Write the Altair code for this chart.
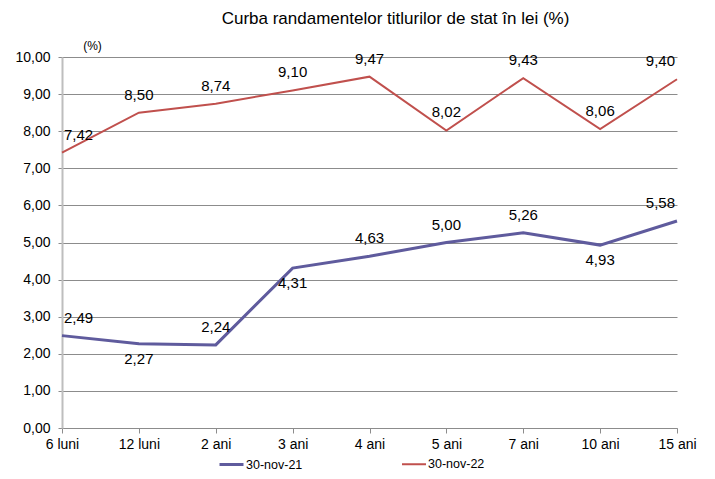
import altair as alt
import pandas as pd

title_text = "Curba randamentelor titlurilor de stat în lei (%)"
categories = ["6 luni", "12 luni", "2 ani", "3 ani", "4 ani", "5 ani", "7 ani", "10 ani", "15 ani"]
series_names = ["30-nov-21", "30-nov-22"]
yields_2021 = [2.49, 2.27, 2.24, 4.31, 4.63, 5.00, 5.26, 4.93, 5.58]
yields_2022 = [7.42, 8.50, 8.74, 9.10, 9.47, 8.02, 9.43, 8.06, 9.40]
label_side_2021 = ["above", "below", "above", "below", "above", "above", "above", "below", "above"]
label_side_2022 = ["above"] * 9
y_ticks = [0, 1, 2, 3, 4, 5, 6, 7, 8, 9, 10]

rows = []
for i, c in enumerate(categories):
    rows.append(dict(tenor=c, idx=i, series=series_names[0], value=yields_2021[i], side=label_side_2021[i]))
    rows.append(dict(tenor=c, idx=i, series=series_names[1], value=yields_2022[i], side=label_side_2022[i]))
df = pd.DataFrame(rows)

last = len(categories) - 1
purple = "#5F5B9D"
red = "#C0504D"
grid_col = "#8C8C8C"
FONT = "Liberation Sans"

x = alt.X(
    "tenor:N",
    sort=categories,
    scale=alt.Scale(type="point", padding=0),
    axis=alt.Axis(
        title=None, labelAngle=0, labelFontSize=14, labelColor="black",
        tickSize=5, tickColor=grid_col, labelPadding=4,
        domainColor=grid_col, grid=False,
    ),
)
y = alt.Y(
    "value:Q",
    scale=alt.Scale(domain=[0, 10], nice=False, zero=True),
    axis=alt.Axis(
        values=y_ticks,
        labelExpr="replace(format(datum.value, '.2f'), '.', ',')",
        labelFontSize=14, labelColor="black", labelPadding=8,
        title="(%)", titleAngle=0, titleX=30, titleY=-12, titleFontSize=12,
        titleFontWeight="normal", titleAlign="center", titleBaseline="middle",
        titleColor="black",
        grid=True, gridColor=grid_col, gridWidth=1,
        domainColor="#BEBEBE", domainWidth=2,
        tickSize=4, tickColor=grid_col,
    ),
)
color = alt.Color(
    "series:N",
    scale=alt.Scale(domain=series_names, range=[purple, red]),
    legend=alt.Legend(
        title=None, orient="none", legendX=156, legendY=394,
        direction="horizontal", symbolType="stroke", symbolSize=576,
        symbolStrokeWidth=3, labelFontSize=12.5, labelColor="black",
        labelOffset=1, columnPadding=95, padding=0,
    ),
)

lines = alt.Chart(df).mark_line().encode(
    x=x, y=y, color=color,
    strokeWidth=alt.StrokeWidth("series:N", scale=alt.Scale(domain=series_names, range=[3, 2]), legend=None),
)

base_text = alt.Chart(df).transform_calculate(
    lab="replace(format(datum.value, '.2f'), '.', ',')"
)
enc = dict(x=x, y=y, text="lab:N")

above_mid = base_text.transform_filter(
    f"datum.side == 'above' && datum.idx > 0 && datum.idx < {last}"
).mark_text(fontSize=15, color="black", dy=-18).encode(**enc)
below = base_text.transform_filter(
    "datum.side == 'below'"
).mark_text(fontSize=15, color="black", dy=15).encode(**enc)
first_lab = base_text.transform_filter(
    "datum.idx == 0"
).mark_text(fontSize=15, color="black", dy=-18, dx=2, align="left").encode(**enc)
last_lab = base_text.transform_filter(
    f"datum.idx == {last}"
).mark_text(fontSize=15, color="black", dy=-18, dx=-2, align="right").encode(**enc)

chart = alt.layer(lines, above_mid, below, first_lab, last_lab).properties(
    width=615,
    height=371,
    title=alt.TitleParams(
        text=title_text, fontSize=17, fontWeight="normal", anchor="middle",
        dx=26, offset=11, color="black", font=FONT,
    ),
    autosize=alt.AutoSizeParams(type="none"),
    padding={"left": 54, "top": 49, "right": 30, "bottom": 43},
).configure(font=FONT).configure_view(stroke=None)

chart.save("out.html", embed_options={"renderer": "svg", "actions": False})
